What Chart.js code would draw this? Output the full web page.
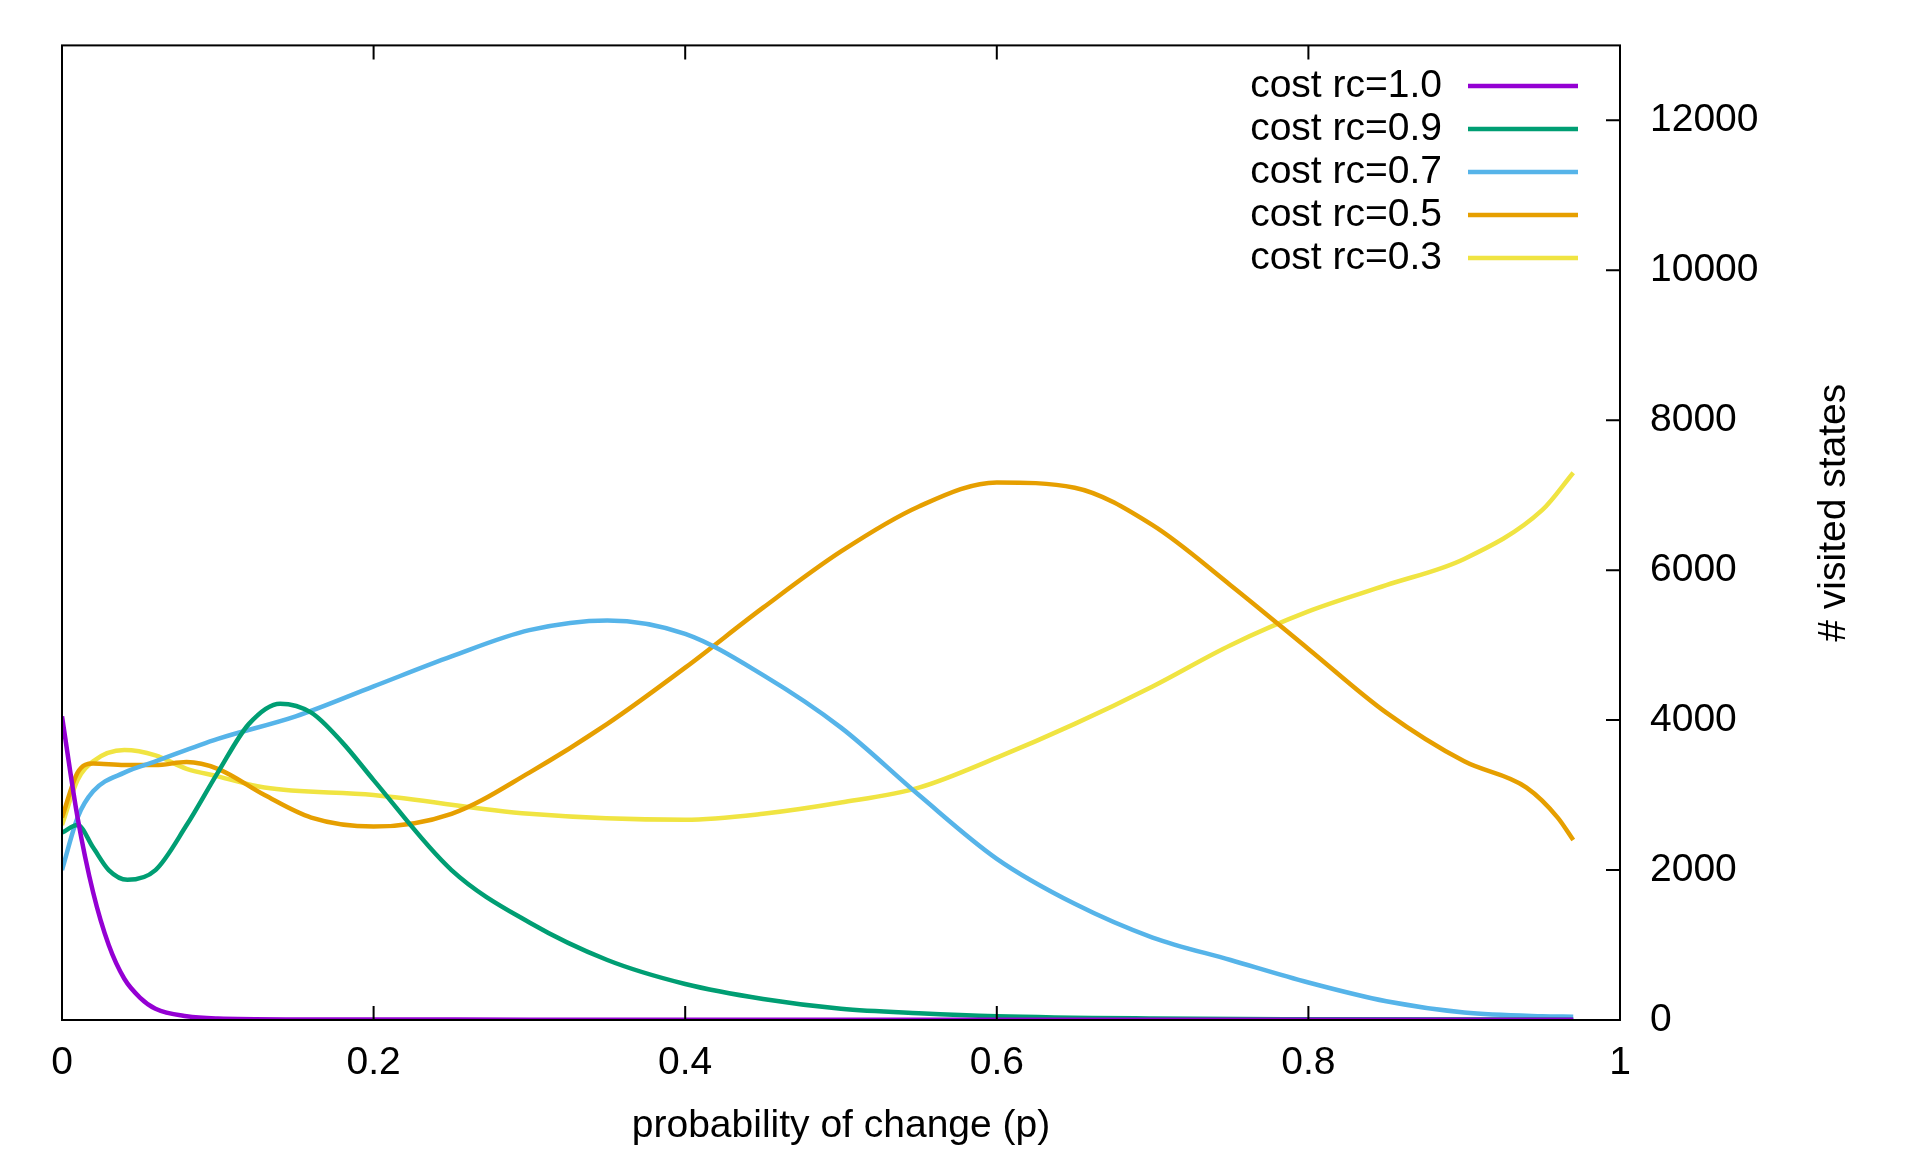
<!DOCTYPE html>
<html><head><meta charset="utf-8">
<script src="https://cdn.jsdelivr.net/npm/chart.js@4/dist/chart.umd.min.js"></script>
<style>html,body{margin:0;padding:0;background:#fff}#c{display:block}</style>
</head><body>
<div style="width:1920px;height:1152px"><canvas id="c"></canvas></div>
<script>
const labels = ["cost rc=1.0","cost rc=0.9","cost rc=0.7","cost rc=0.5","cost rc=0.3"];
const colors = ["#9400d3","#009e73","#56b4e9","#e69f00","#f0e442"];
const xTicks = [0,0.2,0.4,0.6,0.8,1];
const yTicks = [0,2000,4000,6000,8000,10000,12000];
const s10 = [[0,4050],[0.01,2700],[0.02,1700],[0.03,1000],[0.04,550],[0.05,300],[0.06,150],[0.08,50],[0.1,20],[0.15,8],[0.3,5],[0.6,5],[0.97,5]];
const s09 = [[0,2500],[0.01,2600],[0.02,2300],[0.03,2000],[0.042,1870],[0.06,2000],[0.08,2600],[0.1,3300],[0.12,3950],[0.14,4220],[0.16,4100],[0.18,3700],[0.2,3200],[0.25,2000],[0.3,1300],[0.35,800],[0.4,480],[0.45,280],[0.5,150],[0.55,90],[0.6,50],[0.7,20],[0.8,10],[0.97,5]];
const s07 = [[0,2000],[0.01,2700],[0.02,3050],[0.04,3300],[0.06,3450],[0.1,3750],[0.15,4050],[0.2,4450],[0.25,4850],[0.3,5200],[0.35,5330],[0.4,5150],[0.45,4600],[0.5,3900],[0.55,3000],[0.6,2150],[0.65,1550],[0.7,1100],[0.75,800],[0.8,500],[0.85,250],[0.9,100],[0.95,50],[0.97,45]];
const s05 = [[0,2700],[0.01,3300],[0.02,3420],[0.04,3400],[0.06,3400],[0.08,3440],[0.1,3350],[0.13,3000],[0.16,2700],[0.2,2580],[0.25,2750],[0.3,3300],[0.35,3950],[0.4,4700],[0.45,5500],[0.5,6250],[0.55,6850],[0.6,7170],[0.65,7100],[0.7,6600],[0.75,5800],[0.8,4950],[0.85,4100],[0.9,3450],[0.94,3100],[0.96,2700],[0.97,2400]];
const s03 = [[0,2600],[0.01,3200],[0.02,3450],[0.04,3600],[0.06,3530],[0.08,3350],[0.1,3250],[0.13,3100],[0.2,3000],[0.3,2750],[0.4,2670],[0.45,2750],[0.5,2900],[0.55,3100],[0.6,3500],[0.65,3950],[0.7,4450],[0.75,5000],[0.8,5450],[0.85,5800],[0.9,6150],[0.95,6800],[0.97,7300]];
const series = [s10,s09,s07,s05,s03];
const FONT = "'Liberation Sans', Arial, sans-serif";

const frame = {
  id:'frame',
  afterDraw(ch){
    const {ctx, chartArea:a, scales:{x,y}} = ch;
    ctx.save();
    ctx.strokeStyle='#000'; ctx.lineWidth=2;
    ctx.strokeRect(a.left,a.top,a.right-a.left,a.bottom-a.top);
    ctx.beginPath();
    xTicks.forEach(v=>{const px=x.getPixelForValue(v);ctx.moveTo(px,a.bottom);ctx.lineTo(px,a.bottom-14);ctx.moveTo(px,a.top);ctx.lineTo(px,a.top+14);});
    yTicks.forEach(v=>{const py=y.getPixelForValue(v);ctx.moveTo(a.right,py);ctx.lineTo(a.right-14,py);});
    ctx.stroke();
    ctx.fillStyle='#000'; ctx.font='39px '+FONT;
    ctx.translate(1834,(a.top+a.bottom)/2-20); ctx.rotate(-Math.PI/2);
    ctx.textAlign='center'; ctx.textBaseline='middle';
    ctx.fillText('# visited states',0,0);
    ctx.restore();
    ctx.save();
    ctx.font='39px '+FONT; ctx.textAlign='right'; ctx.textBaseline='middle';
    labels.forEach((l,i)=>{
      const yy=86+i*43;
      ctx.fillStyle='#000'; ctx.fillText(l,1442,yy);
      ctx.strokeStyle=colors[i]; ctx.lineWidth=4.5;
      ctx.beginPath(); ctx.moveTo(1468,yy); ctx.lineTo(1578,yy); ctx.stroke();
    });
    ctx.restore();
  }
};

new Chart(document.getElementById('c'),{
  type:'line',
  data:{datasets: series.map((s,i)=>({label:labels[i],data:s.map(p=>({x:p[0],y:p[1]})),borderColor:colors[i],borderWidth:4.5,pointRadius:0,fill:false,cubicInterpolationMode:'monotone'}))},
  options:{
    responsive:true, maintainAspectRatio:false, animation:false,
    layout:{padding:{top:40,left:62,right:0,bottom:0}},
    plugins:{legend:{display:false},tooltip:{enabled:false}},
    scales:{
      x:{type:'linear',min:0,max:1,
        afterFit(s){s.height=132;},
        afterBuildTicks(s){s.ticks=xTicks.map(v=>({value:v}));},
        grid:{display:false},border:{display:false},
        ticks:{color:'#000',font:{family:FONT,size:39},padding:12,maxRotation:0,callback:v=>String(v)},
        title:{display:true,text:'probability of change (p)',color:'#000',font:{family:FONT,size:39},padding:{top:0,bottom:2}}},
      y:{position:'right',min:0,max:13000,
        afterFit(s){s.width=300;},
        afterBuildTicks(s){s.ticks=yTicks.map(v=>({value:v}));},
        grid:{display:false},border:{display:false},
        ticks:{color:'#000',font:{family:FONT,size:39},padding:22,callback:v=>String(v)}}
    }
  },
  plugins:[frame]
});
</script>
</body></html>
